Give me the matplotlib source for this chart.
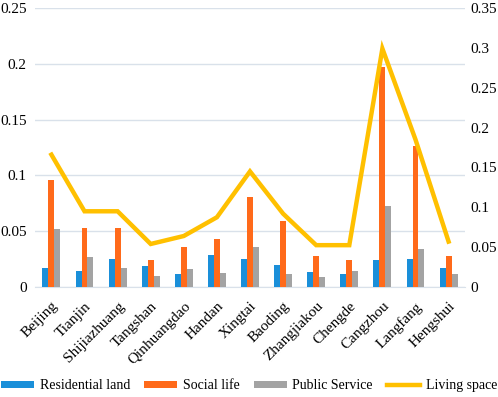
import matplotlib
matplotlib.use("Agg")
import matplotlib.pyplot as plt
import numpy as np

cities = ["Beijing", "Tianjin", "Shijiazhuang", "Tangshan", "Qinhuangdao", "Handan",
          "Xingtai", "Baoding", "Zhangjiakou", "Chengde", "Cangzhou", "Langfang", "Hengshui"]
residential = [0.017, 0.014, 0.025, 0.019, 0.012, 0.029, 0.025, 0.020, 0.0135, 0.012, 0.024, 0.025, 0.017]
social = [0.0955, 0.053, 0.053, 0.024, 0.036, 0.043, 0.081, 0.059, 0.028, 0.024, 0.197, 0.126, 0.028]
public = [0.052, 0.027, 0.017, 0.010, 0.016, 0.0125, 0.036, 0.0115, 0.009, 0.014, 0.073, 0.034, 0.012]
living = [0.166, 0.095, 0.095, 0.054, 0.064, 0.0875, 0.145, 0.092, 0.0525, 0.0525, 0.299, 0.185, 0.057]

plt.rcParams['font.family'] = 'serif'
plt.rcParams['font.serif'] = ['Liberation Serif', 'DejaVu Serif']

fig = plt.figure(figsize=(4.98, 3.97), dpi=100)
ax = fig.add_axes([0.070, 0.277, 0.864, 0.703])
ax2 = ax.twinx()

x = np.arange(len(cities))
w = 0.18
c_blue = "#1a8fd9"
c_orange = "#ff6a1a"
c_gray = "#a3a3a3"
c_line = "#ffc000"

b1 = ax.bar(x - w, residential, w, color=c_blue, label="Residential land", zorder=3)
b2 = ax.bar(x, social, w, color=c_orange, label="Social life", zorder=3)
b3 = ax.bar(x + w, public, w, color=c_gray, label="Public Service", zorder=3)
l1, = ax2.plot(x, living, color=c_line, lw=3.2, label="Living space", solid_joinstyle='miter', zorder=4)

ax.set_xlim(-0.5, len(cities) - 0.5)
ax.set_ylim(0, 0.25)
ax.set_yticks([0, 0.05, 0.1, 0.15, 0.2, 0.25])
ax.set_yticklabels(["0", "0.05", "0.1", "0.15", "0.2", "0.25"])
ax2.set_ylim(0, 0.35)
ax2.set_yticks([0, 0.05, 0.1, 0.15, 0.2, 0.25, 0.3, 0.35])
ax2.set_yticklabels(["0", "0.05", "0.1", "0.15", "0.2", "0.25", "0.3", "0.35"])

ax.yaxis.grid(True, color="#d9e1ea", lw=1, zorder=0)
ax.set_axisbelow(True)
for a in (ax, ax2):
    for s in a.spines.values():
        s.set_visible(False)
    a.tick_params(length=0, labelsize=11)
ax.spines['bottom'].set_visible(True)
ax.spines['bottom'].set_color("#d9e1ea")

ax.set_xticks(x)
ax.set_xticklabels(cities, rotation=45, ha='right', rotation_mode='anchor', fontsize=11)
ax.tick_params(axis='x', pad=9)
ax.tick_params(axis='y', pad=6)
ax2.tick_params(axis='y', pad=4)

fig.legend([b1, b2, b3, l1], ["Residential land", "Social life", "Public Service", "Living space"],
           loc='lower center', bbox_to_anchor=(0.5, -0.02), ncol=4, frameon=False,
           prop={'family': 'serif', 'size': 10}, handlelength=2.4, handleheight=0.5,
           columnspacing=1.0, handletextpad=0.4)

fig.savefig("out.png", dpi=100)
